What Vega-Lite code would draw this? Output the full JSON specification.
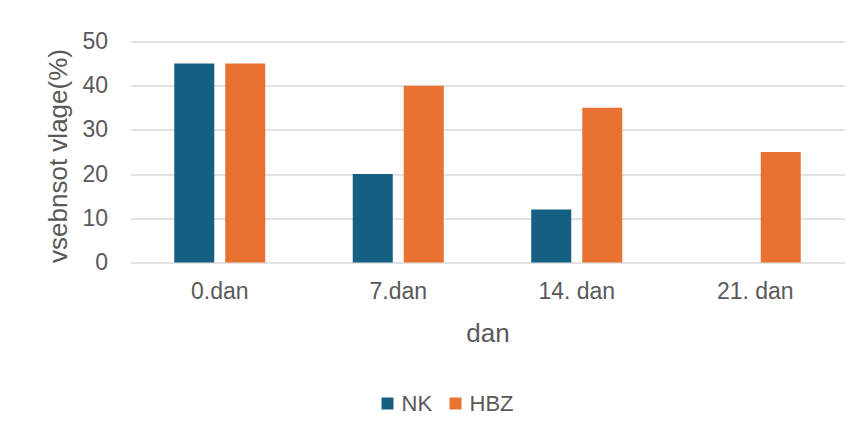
{
  "$schema": "https://vega.github.io/schema/vega-lite/v6.json",
  "width": 714,
  "height": 221,
  "autosize": {"type": "none"},
  "padding": {"left": 130.5, "top": 41.5, "right": 16.5, "bottom": 172.5},
  "background": "white",
  "config": {"view": {"stroke": null}, "font": "Liberation Sans"},
  "data": {
    "values": [
      {"dan": "0.dan", "serija": "NK", "vrednost": 45},
      {"dan": "0.dan", "serija": "HBZ", "vrednost": 45},
      {"dan": "7.dan", "serija": "NK", "vrednost": 20},
      {"dan": "7.dan", "serija": "HBZ", "vrednost": 40},
      {"dan": "14. dan", "serija": "NK", "vrednost": 12},
      {"dan": "14. dan", "serija": "HBZ", "vrednost": 35},
      {"dan": "21. dan", "serija": "NK", "vrednost": null},
      {"dan": "21. dan", "serija": "HBZ", "vrednost": 25}
    ]
  },
  "mark": {"type": "bar"},
  "encoding": {
    "x": {
      "field": "dan",
      "type": "nominal",
      "sort": ["0.dan", "7.dan", "14. dan", "21. dan"],
      "scale": {"paddingInner": 0.49, "paddingOuter": 0.245},
      "axis": {
        "labelAngle": 0,
        "title": "dan",
        "domain": false,
        "ticks": false,
        "labelFontSize": 23,
        "labelColor": "#595959",
        "labelPadding": 18,
        "titleFontSize": 26,
        "titleFontWeight": "normal",
        "titleColor": "#595959",
        "titlePadding": 17
      }
    },
    "xOffset": {
      "field": "serija",
      "type": "nominal",
      "sort": ["NK", "HBZ"],
      "scale": {"paddingInner": 0.216, "paddingOuter": 0}
    },
    "y": {
      "field": "vrednost",
      "type": "quantitative",
      "scale": {"domain": [0, 50]},
      "axis": {
        "values": [0, 10, 20, 30, 40, 50],
        "title": "vsebnsot vlage(%)",
        "domain": false,
        "ticks": false,
        "gridColor": "#d9d9d9",
        "gridWidth": 1.5,
        "labelFontSize": 23,
        "labelColor": "#595959",
        "labelPadding": 23,
        "titleFontSize": 26,
        "titleFontWeight": "normal",
        "titleColor": "#595959",
        "titleX": -72.5,
        "titleY": 114,
        "titleBaseline": "middle"
      }
    },
    "color": {
      "field": "serija",
      "type": "nominal",
      "sort": ["NK", "HBZ"],
      "scale": {"domain": ["NK", "HBZ"], "range": ["#156082", "#E97132"]},
      "legend": {
        "title": null,
        "orient": "none",
        "direction": "horizontal",
        "legendX": 246,
        "legendY": 351,
        "symbolType": "square",
        "symbolSize": 144,
        "symbolStrokeWidth": 0,
        "labelFontSize": 22,
        "labelColor": "#595959",
        "labelOffset": 3,
        "columnPadding": 12
      }
    }
  }
}
